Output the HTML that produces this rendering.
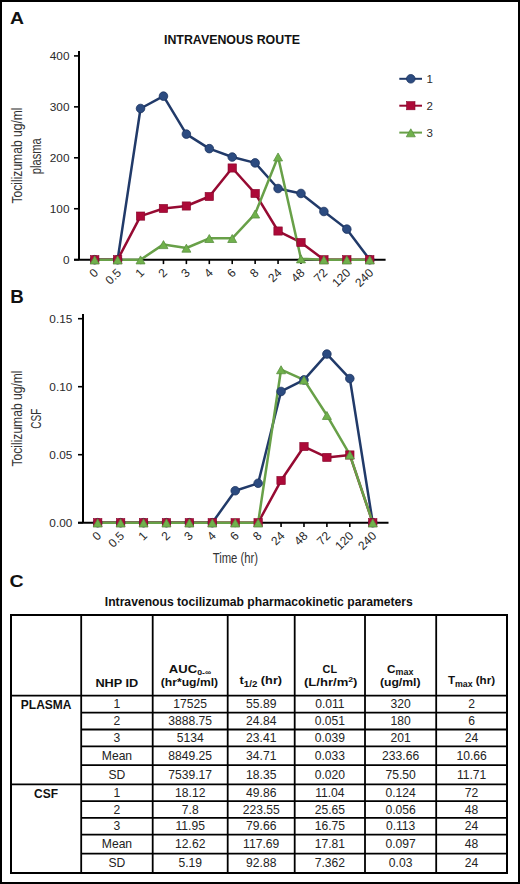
<!DOCTYPE html>
<html><head><meta charset="utf-8"><style>
html,body{margin:0;padding:0;background:#fff;}
body{width:520px;height:884px;overflow:hidden;}
.frame{position:absolute;left:0;top:0;width:516px;height:880px;border:2px solid #000;}
svg{position:absolute;left:0;top:0;font-family:"Liberation Sans", sans-serif;}
</style></head><body>
<div class="frame"></div>
<svg width="520" height="884" viewBox="0 0 520 884">
<text transform="translate(10,23.6) scale(1.12,1)" font-size="17.3" font-weight="bold" fill="#111">A</text>
<text x="232" y="44" text-anchor="middle" font-size="12.4" font-weight="bold" fill="#111">INTRAVENOUS ROUTE</text>
<line x1="79" y1="51" x2="79" y2="259.7" stroke="#000" stroke-width="2"/>
<line x1="74" y1="259.7" x2="385.6" y2="259.7" stroke="#000" stroke-width="2"/>
<line x1="74" y1="259.7" x2="79" y2="259.7" stroke="#000" stroke-width="1.6"/>
<text x="69.5" y="263.5" text-anchor="end" font-size="11.8" fill="#2a2a2a">0</text>
<line x1="74" y1="208.75" x2="79" y2="208.75" stroke="#000" stroke-width="1.6"/>
<text x="69.5" y="212.55" text-anchor="end" font-size="11.8" fill="#2a2a2a">100</text>
<line x1="74" y1="157.8" x2="79" y2="157.8" stroke="#000" stroke-width="1.6"/>
<text x="69.5" y="161.6" text-anchor="end" font-size="11.8" fill="#2a2a2a">200</text>
<line x1="74" y1="106.85" x2="79" y2="106.85" stroke="#000" stroke-width="1.6"/>
<text x="69.5" y="110.65" text-anchor="end" font-size="11.8" fill="#2a2a2a">300</text>
<line x1="74" y1="55.9" x2="79" y2="55.9" stroke="#000" stroke-width="1.6"/>
<text x="69.5" y="59.7" text-anchor="end" font-size="11.8" fill="#2a2a2a">400</text>
<line x1="94.7" y1="259.7" x2="94.7" y2="264.09999999999997" stroke="#000" stroke-width="1.6"/>
<text transform="translate(99.1,273.5) rotate(-45)" text-anchor="end" font-size="12" fill="#2a2a2a">0</text>
<line x1="117.62" y1="259.7" x2="117.62" y2="264.09999999999997" stroke="#000" stroke-width="1.6"/>
<text transform="translate(122.02,273.5) rotate(-45)" text-anchor="end" font-size="12" fill="#2a2a2a">0.5</text>
<line x1="140.54" y1="259.7" x2="140.54" y2="264.09999999999997" stroke="#000" stroke-width="1.6"/>
<text transform="translate(144.94,273.5) rotate(-45)" text-anchor="end" font-size="12" fill="#2a2a2a">1</text>
<line x1="163.46" y1="259.7" x2="163.46" y2="264.09999999999997" stroke="#000" stroke-width="1.6"/>
<text transform="translate(167.86,273.5) rotate(-45)" text-anchor="end" font-size="12" fill="#2a2a2a">2</text>
<line x1="186.38" y1="259.7" x2="186.38" y2="264.09999999999997" stroke="#000" stroke-width="1.6"/>
<text transform="translate(190.78,273.5) rotate(-45)" text-anchor="end" font-size="12" fill="#2a2a2a">3</text>
<line x1="209.3" y1="259.7" x2="209.3" y2="264.09999999999997" stroke="#000" stroke-width="1.6"/>
<text transform="translate(213.7,273.5) rotate(-45)" text-anchor="end" font-size="12" fill="#2a2a2a">4</text>
<line x1="232.22" y1="259.7" x2="232.22" y2="264.09999999999997" stroke="#000" stroke-width="1.6"/>
<text transform="translate(236.62,273.5) rotate(-45)" text-anchor="end" font-size="12" fill="#2a2a2a">6</text>
<line x1="255.14" y1="259.7" x2="255.14" y2="264.09999999999997" stroke="#000" stroke-width="1.6"/>
<text transform="translate(259.54,273.5) rotate(-45)" text-anchor="end" font-size="12" fill="#2a2a2a">8</text>
<line x1="278.06" y1="259.7" x2="278.06" y2="264.09999999999997" stroke="#000" stroke-width="1.6"/>
<text transform="translate(282.46,273.5) rotate(-45)" text-anchor="end" font-size="12" fill="#2a2a2a">24</text>
<line x1="300.98" y1="259.7" x2="300.98" y2="264.09999999999997" stroke="#000" stroke-width="1.6"/>
<text transform="translate(305.38,273.5) rotate(-45)" text-anchor="end" font-size="12" fill="#2a2a2a">48</text>
<line x1="323.9" y1="259.7" x2="323.9" y2="264.09999999999997" stroke="#000" stroke-width="1.6"/>
<text transform="translate(328.3,273.5) rotate(-45)" text-anchor="end" font-size="12" fill="#2a2a2a">72</text>
<line x1="346.82" y1="259.7" x2="346.82" y2="264.09999999999997" stroke="#000" stroke-width="1.6"/>
<text transform="translate(351.22,273.5) rotate(-45)" text-anchor="end" font-size="12" fill="#2a2a2a">120</text>
<line x1="369.74" y1="259.7" x2="369.74" y2="264.09999999999997" stroke="#000" stroke-width="1.6"/>
<text transform="translate(374.14,273.5) rotate(-45)" text-anchor="end" font-size="12" fill="#2a2a2a">240</text>
<polyline points="94.7,259.7 117.62,259.7 140.54,108.48 163.46,96.15 186.38,134.11 209.3,148.63 232.22,157.04 255.14,162.89 278.06,188.52 300.98,193.46 323.9,211.5 346.82,229.13 369.74,259.7" fill="none" stroke="#213a69" stroke-width="2.5" stroke-linejoin="round"/>
<polyline points="94.7,259.7 117.62,259.7 140.54,216.09 163.46,208.5 186.38,206 209.3,196.52 232.22,167.99 255.14,193.46 278.06,231.02 300.98,242.48 323.9,259.7 346.82,259.7 369.74,259.7" fill="none" stroke="#960a32" stroke-width="2.5" stroke-linejoin="round"/>
<polyline points="94.7,259.7 117.62,259.7 140.54,259.7 163.46,244.41 186.38,247.98 209.3,238.3 232.22,238.3 255.14,213.84 278.06,156.78 300.98,258.68 323.9,259.7 346.82,259.7 369.74,259.7" fill="none" stroke="#68A048" stroke-width="2.5" stroke-linejoin="round"/>
<circle cx="94.7" cy="259.7" r="4.3" fill="#2C4B80" stroke="#1c335f" stroke-width="0.8"/>
<circle cx="117.62" cy="259.7" r="4.3" fill="#2C4B80" stroke="#1c335f" stroke-width="0.8"/>
<circle cx="140.54" cy="108.48" r="4.3" fill="#2C4B80" stroke="#1c335f" stroke-width="0.8"/>
<circle cx="163.46" cy="96.15" r="4.3" fill="#2C4B80" stroke="#1c335f" stroke-width="0.8"/>
<circle cx="186.38" cy="134.11" r="4.3" fill="#2C4B80" stroke="#1c335f" stroke-width="0.8"/>
<circle cx="209.3" cy="148.63" r="4.3" fill="#2C4B80" stroke="#1c335f" stroke-width="0.8"/>
<circle cx="232.22" cy="157.04" r="4.3" fill="#2C4B80" stroke="#1c335f" stroke-width="0.8"/>
<circle cx="255.14" cy="162.89" r="4.3" fill="#2C4B80" stroke="#1c335f" stroke-width="0.8"/>
<circle cx="278.06" cy="188.52" r="4.3" fill="#2C4B80" stroke="#1c335f" stroke-width="0.8"/>
<circle cx="300.98" cy="193.46" r="4.3" fill="#2C4B80" stroke="#1c335f" stroke-width="0.8"/>
<circle cx="323.9" cy="211.5" r="4.3" fill="#2C4B80" stroke="#1c335f" stroke-width="0.8"/>
<circle cx="346.82" cy="229.13" r="4.3" fill="#2C4B80" stroke="#1c335f" stroke-width="0.8"/>
<circle cx="369.74" cy="259.7" r="4.3" fill="#2C4B80" stroke="#1c335f" stroke-width="0.8"/>
<rect x="90.5" y="255.6" width="8.4" height="8.2" fill="#AC0A38" stroke="#86062a" stroke-width="0.6"/>
<rect x="113.42" y="255.6" width="8.4" height="8.2" fill="#AC0A38" stroke="#86062a" stroke-width="0.6"/>
<rect x="136.34" y="211.99" width="8.4" height="8.2" fill="#AC0A38" stroke="#86062a" stroke-width="0.6"/>
<rect x="159.26" y="204.4" width="8.4" height="8.2" fill="#AC0A38" stroke="#86062a" stroke-width="0.6"/>
<rect x="182.18" y="201.9" width="8.4" height="8.2" fill="#AC0A38" stroke="#86062a" stroke-width="0.6"/>
<rect x="205.1" y="192.42" width="8.4" height="8.2" fill="#AC0A38" stroke="#86062a" stroke-width="0.6"/>
<rect x="228.02" y="163.89" width="8.4" height="8.2" fill="#AC0A38" stroke="#86062a" stroke-width="0.6"/>
<rect x="250.94" y="189.36" width="8.4" height="8.2" fill="#AC0A38" stroke="#86062a" stroke-width="0.6"/>
<rect x="273.86" y="226.92" width="8.4" height="8.2" fill="#AC0A38" stroke="#86062a" stroke-width="0.6"/>
<rect x="296.78" y="238.38" width="8.4" height="8.2" fill="#AC0A38" stroke="#86062a" stroke-width="0.6"/>
<rect x="319.7" y="255.6" width="8.4" height="8.2" fill="#AC0A38" stroke="#86062a" stroke-width="0.6"/>
<rect x="342.62" y="255.6" width="8.4" height="8.2" fill="#AC0A38" stroke="#86062a" stroke-width="0.6"/>
<rect x="365.54" y="255.6" width="8.4" height="8.2" fill="#AC0A38" stroke="#86062a" stroke-width="0.6"/>
<path d="M94.7 255.9L99.2 263.9L90.2 263.9Z" fill="#70B14C" stroke="#5a9040" stroke-width="0.8" stroke-linejoin="round"/>
<path d="M117.62 255.9L122.12 263.9L113.12 263.9Z" fill="#70B14C" stroke="#5a9040" stroke-width="0.8" stroke-linejoin="round"/>
<path d="M140.54 255.9L145.04 263.9L136.04 263.9Z" fill="#70B14C" stroke="#5a9040" stroke-width="0.8" stroke-linejoin="round"/>
<path d="M163.46 240.61L167.96 248.61L158.96 248.61Z" fill="#70B14C" stroke="#5a9040" stroke-width="0.8" stroke-linejoin="round"/>
<path d="M186.38 244.18L190.88 252.18L181.88 252.18Z" fill="#70B14C" stroke="#5a9040" stroke-width="0.8" stroke-linejoin="round"/>
<path d="M209.3 234.5L213.8 242.5L204.8 242.5Z" fill="#70B14C" stroke="#5a9040" stroke-width="0.8" stroke-linejoin="round"/>
<path d="M232.22 234.5L236.72 242.5L227.72 242.5Z" fill="#70B14C" stroke="#5a9040" stroke-width="0.8" stroke-linejoin="round"/>
<path d="M255.14 210.04L259.64 218.04L250.64 218.04Z" fill="#70B14C" stroke="#5a9040" stroke-width="0.8" stroke-linejoin="round"/>
<path d="M278.06 152.98L282.56 160.98L273.56 160.98Z" fill="#70B14C" stroke="#5a9040" stroke-width="0.8" stroke-linejoin="round"/>
<path d="M300.98 254.88L305.48 262.88L296.48 262.88Z" fill="#70B14C" stroke="#5a9040" stroke-width="0.8" stroke-linejoin="round"/>
<path d="M323.9 255.9L328.4 263.9L319.4 263.9Z" fill="#70B14C" stroke="#5a9040" stroke-width="0.8" stroke-linejoin="round"/>
<path d="M346.82 255.9L351.32 263.9L342.32 263.9Z" fill="#70B14C" stroke="#5a9040" stroke-width="0.8" stroke-linejoin="round"/>
<path d="M369.74 255.9L374.24 263.9L365.24 263.9Z" fill="#70B14C" stroke="#5a9040" stroke-width="0.8" stroke-linejoin="round"/>
<text transform="translate(21.6,155.5) rotate(-90)" text-anchor="middle" font-size="14" fill="#333" textLength="96" lengthAdjust="spacingAndGlyphs">Tocilizumab ug/ml</text>
<text transform="translate(40.6,156.2) rotate(-90)" text-anchor="middle" font-size="15.5" fill="#333" textLength="36" lengthAdjust="spacingAndGlyphs">plasma</text>
<line x1="399.3" y1="78.8" x2="422" y2="78.8" stroke="#213a69" stroke-width="2"/>
<circle cx="410.8" cy="78.8" r="4.3" fill="#2C4B80" stroke="#1c335f" stroke-width="0.8"/>
<text x="426.5" y="82.9" font-size="11.5" fill="#2a2a2a">1</text>
<line x1="399.3" y1="105.7" x2="422" y2="105.7" stroke="#960a32" stroke-width="2"/>
<rect x="406.6" y="101.6" width="8.4" height="8.2" fill="#AC0A38" stroke="#86062a" stroke-width="0.6"/>
<text x="426.5" y="109.8" font-size="11.5" fill="#2a2a2a">2</text>
<line x1="399.3" y1="132.6" x2="422" y2="132.6" stroke="#68A048" stroke-width="2"/>
<path d="M410.8 128.8L415.3 136.8L406.3 136.8Z" fill="#70B14C" stroke="#5a9040" stroke-width="0.8" stroke-linejoin="round"/>
<text x="426.5" y="136.7" font-size="11.5" fill="#2a2a2a">3</text>
<text transform="translate(10.3,302.8) scale(1.05,1)" font-size="17.8" font-weight="bold" fill="#111">B</text>
<line x1="83" y1="314" x2="83" y2="522.7" stroke="#000" stroke-width="2"/>
<line x1="78" y1="522.7" x2="388.5" y2="522.7" stroke="#000" stroke-width="2"/>
<line x1="78" y1="522.7" x2="83" y2="522.7" stroke="#000" stroke-width="1.6"/>
<text x="72.3" y="526.5" text-anchor="end" font-size="11.8" fill="#2a2a2a">0.00</text>
<line x1="78" y1="454.7" x2="83" y2="454.7" stroke="#000" stroke-width="1.6"/>
<text x="72.3" y="458.5" text-anchor="end" font-size="11.8" fill="#2a2a2a">0.05</text>
<line x1="78" y1="386.7" x2="83" y2="386.7" stroke="#000" stroke-width="1.6"/>
<text x="72.3" y="390.5" text-anchor="end" font-size="11.8" fill="#2a2a2a">0.10</text>
<line x1="78" y1="318.7" x2="83" y2="318.7" stroke="#000" stroke-width="1.6"/>
<text x="72.3" y="322.5" text-anchor="end" font-size="11.8" fill="#2a2a2a">0.15</text>
<line x1="97.7" y1="522.7" x2="97.7" y2="527.1" stroke="#000" stroke-width="1.6"/>
<text transform="translate(102.1,536.5) rotate(-45)" text-anchor="end" font-size="12" fill="#2a2a2a">0</text>
<line x1="120.62" y1="522.7" x2="120.62" y2="527.1" stroke="#000" stroke-width="1.6"/>
<text transform="translate(125.02,536.5) rotate(-45)" text-anchor="end" font-size="12" fill="#2a2a2a">0.5</text>
<line x1="143.54" y1="522.7" x2="143.54" y2="527.1" stroke="#000" stroke-width="1.6"/>
<text transform="translate(147.94,536.5) rotate(-45)" text-anchor="end" font-size="12" fill="#2a2a2a">1</text>
<line x1="166.46" y1="522.7" x2="166.46" y2="527.1" stroke="#000" stroke-width="1.6"/>
<text transform="translate(170.86,536.5) rotate(-45)" text-anchor="end" font-size="12" fill="#2a2a2a">2</text>
<line x1="189.38" y1="522.7" x2="189.38" y2="527.1" stroke="#000" stroke-width="1.6"/>
<text transform="translate(193.78,536.5) rotate(-45)" text-anchor="end" font-size="12" fill="#2a2a2a">3</text>
<line x1="212.3" y1="522.7" x2="212.3" y2="527.1" stroke="#000" stroke-width="1.6"/>
<text transform="translate(216.7,536.5) rotate(-45)" text-anchor="end" font-size="12" fill="#2a2a2a">4</text>
<line x1="235.22" y1="522.7" x2="235.22" y2="527.1" stroke="#000" stroke-width="1.6"/>
<text transform="translate(239.62,536.5) rotate(-45)" text-anchor="end" font-size="12" fill="#2a2a2a">6</text>
<line x1="258.14" y1="522.7" x2="258.14" y2="527.1" stroke="#000" stroke-width="1.6"/>
<text transform="translate(262.54,536.5) rotate(-45)" text-anchor="end" font-size="12" fill="#2a2a2a">8</text>
<line x1="281.06" y1="522.7" x2="281.06" y2="527.1" stroke="#000" stroke-width="1.6"/>
<text transform="translate(285.46,536.5) rotate(-45)" text-anchor="end" font-size="12" fill="#2a2a2a">24</text>
<line x1="303.98" y1="522.7" x2="303.98" y2="527.1" stroke="#000" stroke-width="1.6"/>
<text transform="translate(308.38,536.5) rotate(-45)" text-anchor="end" font-size="12" fill="#2a2a2a">48</text>
<line x1="326.9" y1="522.7" x2="326.9" y2="527.1" stroke="#000" stroke-width="1.6"/>
<text transform="translate(331.3,536.5) rotate(-45)" text-anchor="end" font-size="12" fill="#2a2a2a">72</text>
<line x1="349.82" y1="522.7" x2="349.82" y2="527.1" stroke="#000" stroke-width="1.6"/>
<text transform="translate(354.22,536.5) rotate(-45)" text-anchor="end" font-size="12" fill="#2a2a2a">120</text>
<line x1="372.74" y1="522.7" x2="372.74" y2="527.1" stroke="#000" stroke-width="1.6"/>
<text transform="translate(377.14,536.5) rotate(-45)" text-anchor="end" font-size="12" fill="#2a2a2a">240</text>
<polyline points="97.7,522.7 120.62,522.7 143.54,522.7 166.46,522.7 189.38,522.7 212.3,522.7 235.22,490.74 258.14,483.26 281.06,391.46 303.98,379.9 326.9,354.06 349.82,378.54 372.74,522.7" fill="none" stroke="#213a69" stroke-width="2.5" stroke-linejoin="round"/>
<polyline points="97.7,522.7 120.62,522.7 143.54,522.7 166.46,522.7 189.38,522.7 212.3,522.7 235.22,522.7 258.14,522.7 281.06,480.54 303.98,446.54 326.9,457.42 349.82,454.97 372.74,522.7" fill="none" stroke="#960a32" stroke-width="2.5" stroke-linejoin="round"/>
<polyline points="97.7,522.7 120.62,522.7 143.54,522.7 166.46,522.7 189.38,522.7 212.3,522.7 235.22,522.7 258.14,522.7 281.06,369.56 303.98,379.9 326.9,415.26 349.82,454.7 372.74,522.7" fill="none" stroke="#68A048" stroke-width="2.5" stroke-linejoin="round"/>
<circle cx="97.7" cy="522.7" r="4.3" fill="#2C4B80" stroke="#1c335f" stroke-width="0.8"/>
<circle cx="120.62" cy="522.7" r="4.3" fill="#2C4B80" stroke="#1c335f" stroke-width="0.8"/>
<circle cx="143.54" cy="522.7" r="4.3" fill="#2C4B80" stroke="#1c335f" stroke-width="0.8"/>
<circle cx="166.46" cy="522.7" r="4.3" fill="#2C4B80" stroke="#1c335f" stroke-width="0.8"/>
<circle cx="189.38" cy="522.7" r="4.3" fill="#2C4B80" stroke="#1c335f" stroke-width="0.8"/>
<circle cx="212.3" cy="522.7" r="4.3" fill="#2C4B80" stroke="#1c335f" stroke-width="0.8"/>
<circle cx="235.22" cy="490.74" r="4.3" fill="#2C4B80" stroke="#1c335f" stroke-width="0.8"/>
<circle cx="258.14" cy="483.26" r="4.3" fill="#2C4B80" stroke="#1c335f" stroke-width="0.8"/>
<circle cx="281.06" cy="391.46" r="4.3" fill="#2C4B80" stroke="#1c335f" stroke-width="0.8"/>
<circle cx="303.98" cy="379.9" r="4.3" fill="#2C4B80" stroke="#1c335f" stroke-width="0.8"/>
<circle cx="326.9" cy="354.06" r="4.3" fill="#2C4B80" stroke="#1c335f" stroke-width="0.8"/>
<circle cx="349.82" cy="378.54" r="4.3" fill="#2C4B80" stroke="#1c335f" stroke-width="0.8"/>
<circle cx="372.74" cy="522.7" r="4.3" fill="#2C4B80" stroke="#1c335f" stroke-width="0.8"/>
<rect x="93.5" y="518.6" width="8.4" height="8.2" fill="#AC0A38" stroke="#86062a" stroke-width="0.6"/>
<rect x="116.42" y="518.6" width="8.4" height="8.2" fill="#AC0A38" stroke="#86062a" stroke-width="0.6"/>
<rect x="139.34" y="518.6" width="8.4" height="8.2" fill="#AC0A38" stroke="#86062a" stroke-width="0.6"/>
<rect x="162.26" y="518.6" width="8.4" height="8.2" fill="#AC0A38" stroke="#86062a" stroke-width="0.6"/>
<rect x="185.18" y="518.6" width="8.4" height="8.2" fill="#AC0A38" stroke="#86062a" stroke-width="0.6"/>
<rect x="208.1" y="518.6" width="8.4" height="8.2" fill="#AC0A38" stroke="#86062a" stroke-width="0.6"/>
<rect x="231.02" y="518.6" width="8.4" height="8.2" fill="#AC0A38" stroke="#86062a" stroke-width="0.6"/>
<rect x="253.94" y="518.6" width="8.4" height="8.2" fill="#AC0A38" stroke="#86062a" stroke-width="0.6"/>
<rect x="276.86" y="476.44" width="8.4" height="8.2" fill="#AC0A38" stroke="#86062a" stroke-width="0.6"/>
<rect x="299.78" y="442.44" width="8.4" height="8.2" fill="#AC0A38" stroke="#86062a" stroke-width="0.6"/>
<rect x="322.7" y="453.32" width="8.4" height="8.2" fill="#AC0A38" stroke="#86062a" stroke-width="0.6"/>
<rect x="345.62" y="450.87" width="8.4" height="8.2" fill="#AC0A38" stroke="#86062a" stroke-width="0.6"/>
<rect x="368.54" y="518.6" width="8.4" height="8.2" fill="#AC0A38" stroke="#86062a" stroke-width="0.6"/>
<path d="M97.7 518.9L102.2 526.9L93.2 526.9Z" fill="#70B14C" stroke="#5a9040" stroke-width="0.8" stroke-linejoin="round"/>
<path d="M120.62 518.9L125.12 526.9L116.12 526.9Z" fill="#70B14C" stroke="#5a9040" stroke-width="0.8" stroke-linejoin="round"/>
<path d="M143.54 518.9L148.04 526.9L139.04 526.9Z" fill="#70B14C" stroke="#5a9040" stroke-width="0.8" stroke-linejoin="round"/>
<path d="M166.46 518.9L170.96 526.9L161.96 526.9Z" fill="#70B14C" stroke="#5a9040" stroke-width="0.8" stroke-linejoin="round"/>
<path d="M189.38 518.9L193.88 526.9L184.88 526.9Z" fill="#70B14C" stroke="#5a9040" stroke-width="0.8" stroke-linejoin="round"/>
<path d="M212.3 518.9L216.8 526.9L207.8 526.9Z" fill="#70B14C" stroke="#5a9040" stroke-width="0.8" stroke-linejoin="round"/>
<path d="M235.22 518.9L239.72 526.9L230.72 526.9Z" fill="#70B14C" stroke="#5a9040" stroke-width="0.8" stroke-linejoin="round"/>
<path d="M258.14 518.9L262.64 526.9L253.64 526.9Z" fill="#70B14C" stroke="#5a9040" stroke-width="0.8" stroke-linejoin="round"/>
<path d="M281.06 365.76L285.56 373.76L276.56 373.76Z" fill="#70B14C" stroke="#5a9040" stroke-width="0.8" stroke-linejoin="round"/>
<path d="M303.98 376.1L308.48 384.1L299.48 384.1Z" fill="#70B14C" stroke="#5a9040" stroke-width="0.8" stroke-linejoin="round"/>
<path d="M326.9 411.46L331.4 419.46L322.4 419.46Z" fill="#70B14C" stroke="#5a9040" stroke-width="0.8" stroke-linejoin="round"/>
<path d="M349.82 450.9L354.32 458.9L345.32 458.9Z" fill="#70B14C" stroke="#5a9040" stroke-width="0.8" stroke-linejoin="round"/>
<path d="M372.74 518.9L377.24 526.9L368.24 526.9Z" fill="#70B14C" stroke="#5a9040" stroke-width="0.8" stroke-linejoin="round"/>
<text transform="translate(21.6,418.5) rotate(-90)" text-anchor="middle" font-size="14" fill="#333" textLength="96" lengthAdjust="spacingAndGlyphs">Tocilizumab ug/ml</text>
<text transform="translate(40.6,418.75) rotate(-90)" text-anchor="middle" font-size="15.5" fill="#333" textLength="20" lengthAdjust="spacingAndGlyphs">CSF</text>
<text x="235.4" y="563" text-anchor="middle" font-size="14" fill="#333" textLength="45.5" lengthAdjust="spacingAndGlyphs">Time (hr)</text>
<text transform="translate(9.4,587.2) scale(1.15,1)" font-size="17" font-weight="bold" fill="#111">C</text>
<text x="258.8" y="606.3" text-anchor="middle" font-size="12.4" font-weight="bold" fill="#111" textLength="308" lengthAdjust="spacingAndGlyphs">Intravenous tocilizumab pharmacokinetic parameters</text>
<rect x="11" y="615" width="496" height="258" fill="none" stroke="#000" stroke-width="2"/>
<line x1="81.2" y1="615" x2="81.2" y2="873" stroke="#000" stroke-width="1.8"/>
<line x1="152.7" y1="615" x2="152.7" y2="873" stroke="#000" stroke-width="1.8"/>
<line x1="227.7" y1="615" x2="227.7" y2="873" stroke="#000" stroke-width="1.8"/>
<line x1="294.7" y1="615" x2="294.7" y2="873" stroke="#000" stroke-width="1.8"/>
<line x1="365" y1="615" x2="365" y2="873" stroke="#000" stroke-width="1.8"/>
<line x1="436.2" y1="615" x2="436.2" y2="873" stroke="#000" stroke-width="1.8"/>
<line x1="11" y1="695.7" x2="507" y2="695.7" stroke="#000" stroke-width="1.8"/>
<line x1="81.2" y1="712.7" x2="507" y2="712.7" stroke="#000" stroke-width="1.8"/>
<line x1="81.2" y1="729.5" x2="507" y2="729.5" stroke="#000" stroke-width="1.8"/>
<line x1="81.2" y1="746.4" x2="507" y2="746.4" stroke="#000" stroke-width="1.8"/>
<line x1="81.2" y1="765.2" x2="507" y2="765.2" stroke="#000" stroke-width="1.8"/>
<line x1="11" y1="784.3" x2="507" y2="784.3" stroke="#000" stroke-width="1.8"/>
<line x1="81.2" y1="801.1" x2="507" y2="801.1" stroke="#000" stroke-width="1.8"/>
<line x1="81.2" y1="817.8" x2="507" y2="817.8" stroke="#000" stroke-width="1.8"/>
<line x1="81.2" y1="834.6" x2="507" y2="834.6" stroke="#000" stroke-width="1.8"/>
<line x1="81.2" y1="853.6" x2="507" y2="853.6" stroke="#000" stroke-width="1.8"/>
<text x="116.85" y="687.3" text-anchor="middle" font-size="11.2" font-weight="bold" fill="#111" textLength="42.9" lengthAdjust="spacingAndGlyphs">NHP ID</text>
<text x="190" y="672.5" text-anchor="middle" font-size="11.2" font-weight="bold" fill="#111" textLength="42.4" lengthAdjust="spacingAndGlyphs">AUC<tspan font-size="7.5" dy="2.5">0-∞</tspan></text>
<text x="189.45" y="686.2" text-anchor="middle" font-size="11.2" font-weight="bold" fill="#111" textLength="57.3" lengthAdjust="spacingAndGlyphs">(hr*ug/ml)</text>
<text x="260.85" y="684.2" text-anchor="middle" font-size="11.2" font-weight="bold" fill="#111" textLength="42.5" lengthAdjust="spacingAndGlyphs">t<tspan font-size="8.5" dy="2.8">1/2</tspan><tspan dy="-2.8"> (hr)</tspan></text>
<text x="329.85" y="672.5" text-anchor="middle" font-size="11.2" font-weight="bold" fill="#111" textLength="14.5" lengthAdjust="spacingAndGlyphs">CL</text>
<text x="330.75" y="686.2" text-anchor="middle" font-size="11.2" font-weight="bold" fill="#111" textLength="53.5" lengthAdjust="spacingAndGlyphs">(L/hr/m<tspan font-size="7.5" dy="-4.3">2</tspan><tspan dy="4.3">)</tspan></text>
<text x="400.25" y="672.5" text-anchor="middle" font-size="11.2" font-weight="bold" fill="#111" textLength="26.3" lengthAdjust="spacingAndGlyphs">C<tspan font-size="8.5" dy="2.8">max</tspan></text>
<text x="400.25" y="686.2" text-anchor="middle" font-size="11.2" font-weight="bold" fill="#111" textLength="40.7" lengthAdjust="spacingAndGlyphs">(ug/ml)</text>
<text x="471.45" y="684" text-anchor="middle" font-size="11.2" font-weight="bold" fill="#111" textLength="47.1" lengthAdjust="spacingAndGlyphs">T<tspan font-size="8.5" dy="2.8">max</tspan><tspan dy="-2.8"> (hr)</tspan></text>
<text transform="translate(116.95,708.3) scale(0.955,1)" text-anchor="middle" font-size="12.7" fill="#222">1</text>
<text transform="translate(190.2,708.3) scale(0.955,1)" text-anchor="middle" font-size="12.7" fill="#222">17525</text>
<text transform="translate(261.2,708.3) scale(0.955,1)" text-anchor="middle" font-size="12.7" fill="#222">55.89</text>
<text transform="translate(329.85,708.3) scale(0.955,1)" text-anchor="middle" font-size="12.7" fill="#222">0.011</text>
<text transform="translate(400.6,708.3) scale(0.955,1)" text-anchor="middle" font-size="12.7" fill="#222">320</text>
<text transform="translate(471.6,708.3) scale(0.955,1)" text-anchor="middle" font-size="12.7" fill="#222">2</text>
<text transform="translate(116.95,725.2) scale(0.955,1)" text-anchor="middle" font-size="12.7" fill="#222">2</text>
<text transform="translate(190.2,725.2) scale(0.955,1)" text-anchor="middle" font-size="12.7" fill="#222">3888.75</text>
<text transform="translate(261.2,725.2) scale(0.955,1)" text-anchor="middle" font-size="12.7" fill="#222">24.84</text>
<text transform="translate(329.85,725.2) scale(0.955,1)" text-anchor="middle" font-size="12.7" fill="#222">0.051</text>
<text transform="translate(400.6,725.2) scale(0.955,1)" text-anchor="middle" font-size="12.7" fill="#222">180</text>
<text transform="translate(471.6,725.2) scale(0.955,1)" text-anchor="middle" font-size="12.7" fill="#222">6</text>
<text transform="translate(116.95,742.05) scale(0.955,1)" text-anchor="middle" font-size="12.7" fill="#222">3</text>
<text transform="translate(190.2,742.05) scale(0.955,1)" text-anchor="middle" font-size="12.7" fill="#222">5134</text>
<text transform="translate(261.2,742.05) scale(0.955,1)" text-anchor="middle" font-size="12.7" fill="#222">23.41</text>
<text transform="translate(329.85,742.05) scale(0.955,1)" text-anchor="middle" font-size="12.7" fill="#222">0.039</text>
<text transform="translate(400.6,742.05) scale(0.955,1)" text-anchor="middle" font-size="12.7" fill="#222">201</text>
<text transform="translate(471.6,742.05) scale(0.955,1)" text-anchor="middle" font-size="12.7" fill="#222">24</text>
<text transform="translate(116.95,759.9) scale(0.955,1)" text-anchor="middle" font-size="12.7" fill="#222">Mean</text>
<text transform="translate(190.2,759.9) scale(0.955,1)" text-anchor="middle" font-size="12.7" fill="#222">8849.25</text>
<text transform="translate(261.2,759.9) scale(0.955,1)" text-anchor="middle" font-size="12.7" fill="#222">34.71</text>
<text transform="translate(329.85,759.9) scale(0.955,1)" text-anchor="middle" font-size="12.7" fill="#222">0.033</text>
<text transform="translate(400.6,759.9) scale(0.955,1)" text-anchor="middle" font-size="12.7" fill="#222">233.66</text>
<text transform="translate(471.6,759.9) scale(0.955,1)" text-anchor="middle" font-size="12.7" fill="#222">10.66</text>
<text transform="translate(116.95,778.85) scale(0.955,1)" text-anchor="middle" font-size="12.7" fill="#222">SD</text>
<text transform="translate(190.2,778.85) scale(0.955,1)" text-anchor="middle" font-size="12.7" fill="#222">7539.17</text>
<text transform="translate(261.2,778.85) scale(0.955,1)" text-anchor="middle" font-size="12.7" fill="#222">18.35</text>
<text transform="translate(329.85,778.85) scale(0.955,1)" text-anchor="middle" font-size="12.7" fill="#222">0.020</text>
<text transform="translate(400.6,778.85) scale(0.955,1)" text-anchor="middle" font-size="12.7" fill="#222">75.50</text>
<text transform="translate(471.6,778.85) scale(0.955,1)" text-anchor="middle" font-size="12.7" fill="#222">11.71</text>
<text transform="translate(116.95,796.8) scale(0.955,1)" text-anchor="middle" font-size="12.7" fill="#222">1</text>
<text transform="translate(190.2,796.8) scale(0.955,1)" text-anchor="middle" font-size="12.7" fill="#222">18.12</text>
<text transform="translate(261.2,796.8) scale(0.955,1)" text-anchor="middle" font-size="12.7" fill="#222">49.86</text>
<text transform="translate(329.85,796.8) scale(0.955,1)" text-anchor="middle" font-size="12.7" fill="#222">11.04</text>
<text transform="translate(400.6,796.8) scale(0.955,1)" text-anchor="middle" font-size="12.7" fill="#222">0.124</text>
<text transform="translate(471.6,796.8) scale(0.955,1)" text-anchor="middle" font-size="12.7" fill="#222">72</text>
<text transform="translate(116.95,813.55) scale(0.955,1)" text-anchor="middle" font-size="12.7" fill="#222">2</text>
<text transform="translate(190.2,813.55) scale(0.955,1)" text-anchor="middle" font-size="12.7" fill="#222">7.8</text>
<text transform="translate(261.2,813.55) scale(0.955,1)" text-anchor="middle" font-size="12.7" fill="#222">223.55</text>
<text transform="translate(329.85,813.55) scale(0.955,1)" text-anchor="middle" font-size="12.7" fill="#222">25.65</text>
<text transform="translate(400.6,813.55) scale(0.955,1)" text-anchor="middle" font-size="12.7" fill="#222">0.056</text>
<text transform="translate(471.6,813.55) scale(0.955,1)" text-anchor="middle" font-size="12.7" fill="#222">48</text>
<text transform="translate(116.95,830.3) scale(0.955,1)" text-anchor="middle" font-size="12.7" fill="#222">3</text>
<text transform="translate(190.2,830.3) scale(0.955,1)" text-anchor="middle" font-size="12.7" fill="#222">11.95</text>
<text transform="translate(261.2,830.3) scale(0.955,1)" text-anchor="middle" font-size="12.7" fill="#222">79.66</text>
<text transform="translate(329.85,830.3) scale(0.955,1)" text-anchor="middle" font-size="12.7" fill="#222">16.75</text>
<text transform="translate(400.6,830.3) scale(0.955,1)" text-anchor="middle" font-size="12.7" fill="#222">0.113</text>
<text transform="translate(471.6,830.3) scale(0.955,1)" text-anchor="middle" font-size="12.7" fill="#222">24</text>
<text transform="translate(116.95,848.2) scale(0.955,1)" text-anchor="middle" font-size="12.7" fill="#222">Mean</text>
<text transform="translate(190.2,848.2) scale(0.955,1)" text-anchor="middle" font-size="12.7" fill="#222">12.62</text>
<text transform="translate(261.2,848.2) scale(0.955,1)" text-anchor="middle" font-size="12.7" fill="#222">117.69</text>
<text transform="translate(329.85,848.2) scale(0.955,1)" text-anchor="middle" font-size="12.7" fill="#222">17.81</text>
<text transform="translate(400.6,848.2) scale(0.955,1)" text-anchor="middle" font-size="12.7" fill="#222">0.097</text>
<text transform="translate(471.6,848.2) scale(0.955,1)" text-anchor="middle" font-size="12.7" fill="#222">48</text>
<text transform="translate(116.95,867.4) scale(0.955,1)" text-anchor="middle" font-size="12.7" fill="#222">SD</text>
<text transform="translate(190.2,867.4) scale(0.955,1)" text-anchor="middle" font-size="12.7" fill="#222">5.19</text>
<text transform="translate(261.2,867.4) scale(0.955,1)" text-anchor="middle" font-size="12.7" fill="#222">92.88</text>
<text transform="translate(329.85,867.4) scale(0.955,1)" text-anchor="middle" font-size="12.7" fill="#222">7.362</text>
<text transform="translate(400.6,867.4) scale(0.955,1)" text-anchor="middle" font-size="12.7" fill="#222">0.03</text>
<text transform="translate(471.6,867.4) scale(0.955,1)" text-anchor="middle" font-size="12.7" fill="#222">24</text>
<text x="46.2" y="709" text-anchor="middle" font-size="12" font-weight="bold" fill="#111">PLASMA</text>
<text x="46" y="797.5" text-anchor="middle" font-size="12" font-weight="bold" fill="#111">CSF</text>
</svg>
</body></html>
